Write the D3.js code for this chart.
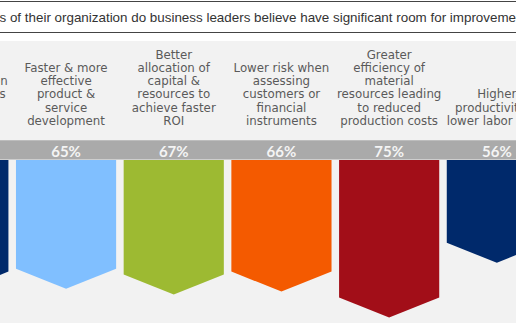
<!DOCTYPE html>
<html>
<head>
<meta charset="utf-8">
<script src="https://cdn.jsdelivr.net/npm/d3@7"></script>
<style>
  html, body { margin: 0; padding: 0; background: #ffffff; }
  svg { display: block; }
</style>
</head>
<body>
<div id="chart"></div>
<script>
// ---- data ----
const title = "Which areas of their organization do business leaders believe have significant room for improvement?";
const categories = [
  "Faster & smarter decision in all operations & sales planning",
  "Faster & more effective product & service development",
  "Better allocation of capital & resources to achieve faster ROI",
  "Lower risk when assessing customers or financial instruments",
  "Greater efficiency of material resources leading to reduced production costs",
  "Higher productivity & lower labor costs"
];
const labelLines = [
  ["Faster &", "smarter decision", "in all operations", "& sales", "planning"],
  ["Faster & more", "effective", "product &", "service", "development"],
  ["Better", "allocation of", "capital &", "resources to", "achieve faster", "ROI"],
  ["Lower risk when", "assessing", "customers or", "financial", "instruments"],
  ["Greater", "efficiency of", "material", "resources leading", "to reduced", "production costs"],
  ["Higher", "productivity &", "lower labor costs"]
];
const values = [66, 65, 67, 66, 75, 56];
const colors = ["#00296b", "#80bfff", "#9dba32", "#f45a00", "#a20e18", "#00296b"];

// ---- layout ----
const W = 516, H = 323;
const svg = d3.select("#chart").append("svg").attr("width", W).attr("height", H);

svg.append("rect").attr("x", 0).attr("y", 0).attr("width", W).attr("height", H).attr("fill", "#ffffff");
svg.append("rect").attr("x", 0).attr("y", 41).attr("width", W).attr("height", H - 41).attr("fill", "#f2f2f2");

// title box
svg.append("line").attr("x1", 0).attr("x2", W).attr("y1", 1.5).attr("y2", 1.5).attr("stroke", "#444").attr("stroke-width", 1.2);
svg.append("line").attr("x1", 0).attr("x2", W).attr("y1", 32.5).attr("y2", 32.5).attr("stroke", "#444").attr("stroke-width", 1.2);

const titleStyle = t => t.attr("font-family", "'Liberation Sans', Arial, sans-serif").attr("font-size", 13.4).attr("fill", "#333");
const probe = svg.append("text").text("Which area").call(titleStyle);
const prefixW = probe.node().getComputedTextLength();
probe.remove();
svg.append("text").attr("x", -prefixW - 0.5).attr("y", 22).text(title).call(titleStyle);

// scales
const x = d3.scaleBand().domain(categories).range([-95.5, 550.7]).paddingInner(0.07).paddingOuter(0.035);
const len = d3.scaleLinear().domain([50, 80]).range([85.5, 171.9]);
const barTop = 160;

// gray band
svg.append("rect").attr("x", 0).attr("y", 140).attr("width", W).attr("height", 19.5).attr("fill", "#aaaaaa");
svg.append("line").attr("x1", 0).attr("x2", W).attr("y1", 140.5).attr("y2", 140.5).attr("stroke", "#bdbdbd").attr("stroke-width", 1);

const data = categories.map((c, i) => ({ c, v: values[i], color: colors[i], lines: labelLines[i] }));

// bars
svg.append("g").selectAll("path").data(data).join("path")
  .attr("fill", d => d.color)
  .attr("d", d => {
    const x0 = x(d.c), w = x.bandwidth();
    const tip = barTop + len(d.v);
    const side = tip - 0.2 * w;
    return d3.line()([[x0, barTop], [x0 + w, barTop], [x0 + w, side], [x0 + w / 2, tip], [x0, side]]) + "Z";
  });

// percentage labels
svg.append("g").selectAll("text").data(data).join("text")
  .attr("x", d => x(d.c) + x.bandwidth() / 2)
  .attr("y", 156.5)
  .attr("text-anchor", "middle")
  .attr("font-family", "Lato, 'DejaVu Sans', sans-serif")
  .attr("font-weight", 700)
  .attr("font-size", 15)
  .attr("fill", "#f4f4f4")
  .text(d => d.v + "%");

// category labels
const lg = svg.append("g").selectAll("text").data(data).join("text")
  .attr("text-anchor", "middle")
  .attr("font-family", "'DejaVu Sans', sans-serif")
  .attr("font-size", 11.8)
  .attr("fill", "#5a5a5a");
lg.each(function (d) {
  const n = d.lines.length;
  d3.select(this).selectAll("tspan").data(d.lines).join("tspan")
    .attr("x", x(d.c) + x.bandwidth() / 2)
    .attr("y", (l, j) => 125 - (n - 1 - j) * 13.3)
    .text(l => l);
});
</script>
</body>
</html>
